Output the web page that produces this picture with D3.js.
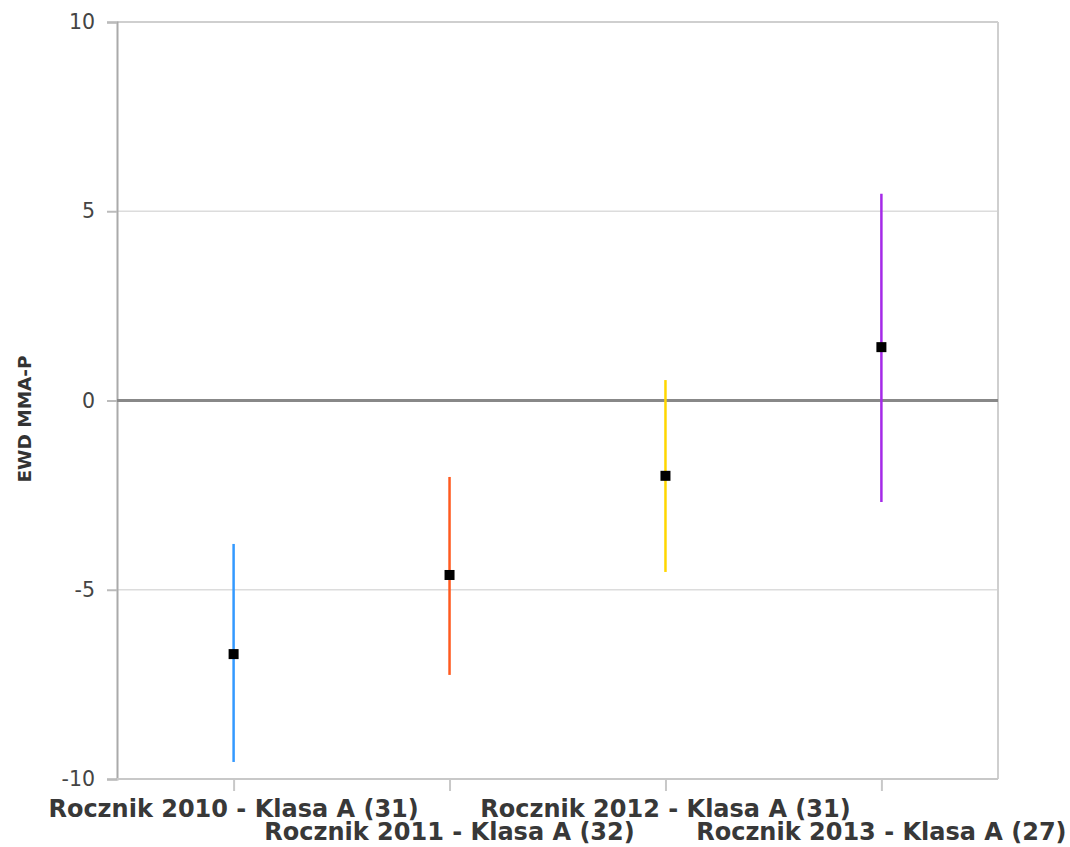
<!DOCTYPE html>
<html><head><meta charset="utf-8">
<script src="https://cdn.jsdelivr.net/npm/d3@7/dist/d3.min.js"></script>
<style>body{margin:0;background:#fff}svg{display:block}</style>
</head><body><svg id="c" width="1070" height="847"></svg>
<script>
const categories = ["Rocznik 2010 - Klasa A (31)","Rocznik 2011 - Klasa A (32)","Rocznik 2012 - Klasa A (31)","Rocznik 2013 - Klasa A (27)"];
const values = [-6.70, -4.61, -1.99, 1.41];
const upper = [-3.79, -2.02, 0.54, 5.46];
const lower = [-9.55, -7.25, -4.53, -2.68];
const colors = ["#3399ff", "#ff5a1f", "#ffd700", "#a52ae8"];
const yTicks = [-10, -5, 0, 5, 10];
const yTitle = "EWD MMA-P";

const svg = d3.select("#c");
const L = 117, R = 998, T = 22, B = 779;
const x = d3.scalePoint().domain(categories).range([L, R]).padding(0.54);
const y = d3.scaleLinear().domain([-10, 10]).range([B, T]);
const font = "'DejaVu Sans', Verdana, sans-serif";

// grid
svg.append("g").selectAll("line").data(yTicks.filter(d => d !== 0 && d !== 10 && d !== -10)).join("line")
  .attr("x1", L).attr("x2", R).attr("y1", d => y(d)).attr("y2", d => y(d))
  .attr("stroke", "#dcdcdc").attr("stroke-width", 1.5);
// frame
svg.append("line").attr("x1", L).attr("x2", R).attr("y1", T).attr("y2", T).attr("stroke", "#cfcfcf").attr("stroke-width", 2);
svg.append("line").attr("x1", R).attr("x2", R).attr("y1", T).attr("y2", B).attr("stroke", "#cfcfcf").attr("stroke-width", 2);

// y axis
const ya = d3.axisLeft(y).tickValues(yTicks).tickSize(10).tickPadding(12).tickFormat(d => String(d));
const gy = svg.append("g").attr("transform", `translate(${L},0)`).call(ya);
gy.select(".domain").attr("stroke", "#aaaaaa").attr("stroke-width", 2);
gy.selectAll(".tick line").attr("stroke", "#bbbbbb").attr("stroke-width", 2);
gy.selectAll(".tick text").attr("font-family", font).attr("font-size", 20.5).attr("fill", "#444");

// x axis
const xa = d3.axisBottom(x).tickSize(12).tickPadding(0).tickFormat("");
const gx = svg.append("g").attr("transform", `translate(0,${B})`).call(xa);
gx.select(".domain").attr("stroke", "#c8c8c8").attr("stroke-width", 2).attr("d", `M${L},0H${R}`);
gx.selectAll(".tick line").attr("stroke", "#c8c8c8").attr("stroke-width", 2);
svg.append("g").selectAll("text").data(categories).join("text")
  .attr("x", d => x(d)).attr("y", (d, i) => i % 2 === 0 ? 817 : 840)
  .attr("text-anchor", "middle").attr("font-family", font).attr("font-weight", "bold")
  .attr("font-size", 24).attr("fill", "#383838").text(d => d);

// zero line
svg.append("line").attr("x1", L).attr("x2", R).attr("y1", y(0)).attr("y2", y(0))
  .attr("stroke", "#888").attr("stroke-width", 3);

// y title
svg.append("text").attr("transform", `translate(31,419) rotate(-90)`)
  .attr("text-anchor", "middle").attr("font-family", font).attr("font-weight", "bold")
  .attr("font-size", 18.5).attr("fill", "#333").text(yTitle);

// error bars
svg.append("g").selectAll("line").data(categories).join("line")
  .attr("x1", d => x(d)).attr("x2", d => x(d))
  .attr("y1", (d, i) => y(upper[i])).attr("y2", (d, i) => y(lower[i]))
  .attr("stroke", (d, i) => colors[i]).attr("stroke-width", 2.5);
// points
svg.append("g").selectAll("rect").data(categories).join("rect")
  .attr("x", d => x(d) - 5).attr("y", (d, i) => y(values[i]) - 5)
  .attr("width", 10).attr("height", 10).attr("fill", "#000");
</script></body></html>
